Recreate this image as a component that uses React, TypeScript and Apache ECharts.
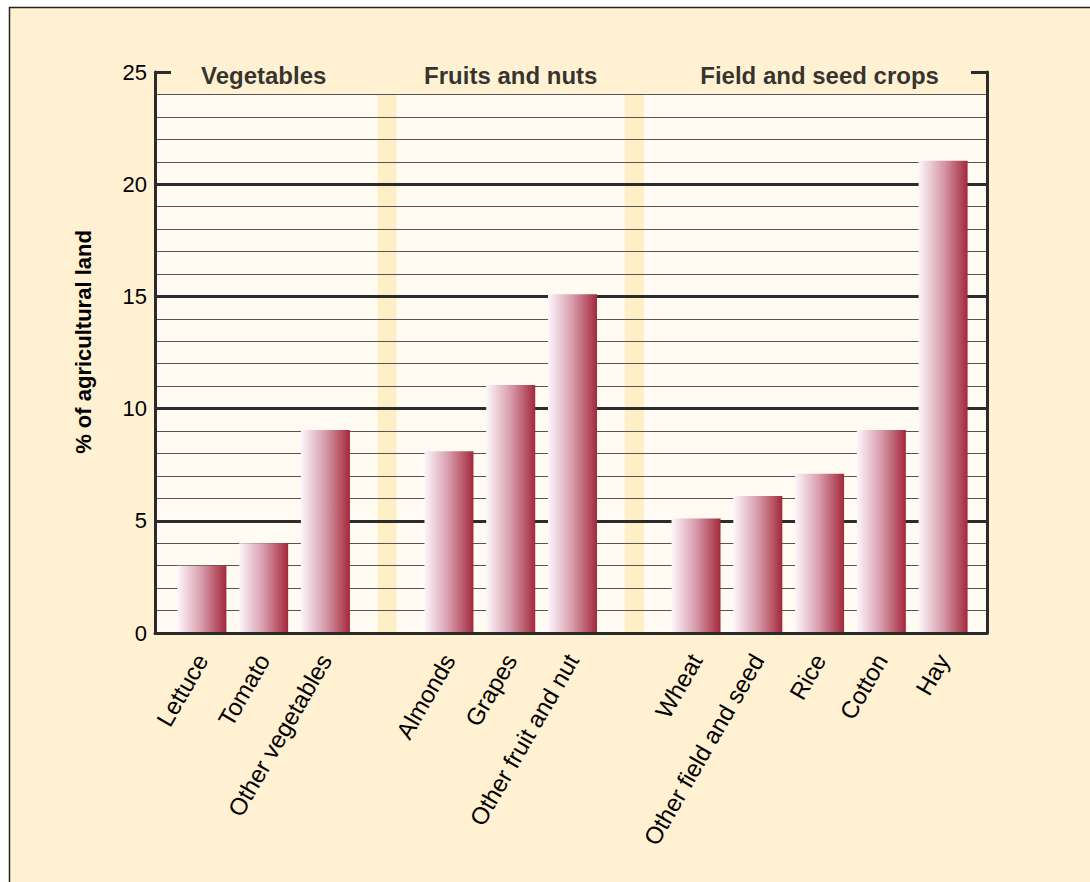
import React, { useEffect, useRef } from 'react';
import * as echarts from 'echarts';

// ---- data ----
const vegetables = ['Lettuce', 'Tomato', 'Other vegetables'];
const vegetableValues = [3.0, 4.0, 9.05];
const fruitsNuts = ['Almonds', 'Grapes', 'Other fruit and nut'];
const fruitNutValues = [8.1, 11.05, 15.1];
const fieldCrops = ['Wheat', 'Other field and seed', 'Rice', 'Cotton', 'Hay'];
const fieldCropValues = [5.1, 6.1, 7.1, 9.05, 21.05];
const groupTitles = ['Vegetables', 'Fruits and nuts', 'Field and seed crops'];
const yMin = 0;
const yMax = 25;
const yInterval = 5;
const headerTop = 24; // top of the light plot area (header row above it)
const titleLevel = 24.85;

const FONT = '"Liberation Sans", Arial, Helvetica, sans-serif';
const AXIS = '#2b2b2b';
const TEXT = '#000';

const groups = [
  { names: vegetables, values: vegetableValues, title: groupTitles[0] },
  { names: fruitsNuts, values: fruitNutValues, title: groupTitles[1] },
  { names: fieldCrops, values: fieldCropValues, title: groupTitles[2] },
];

const categories: string[] = [];
const barData: (number | null)[] = [];
const bandData: (number | null)[] = [];
const titleData: any[] = [];
groups.forEach((g, gi) => {
  if (gi > 0) {
    categories.push(' '.repeat(gi));
    barData.push(null);
    bandData.push(headerTop);
  }
  g.names.forEach((n, i) => {
    categories.push(n);
    barData.push(g.values[i]);
    bandData.push(null);
  });
  titleData.push({ name: g.title, value: [g.names[Math.floor(g.names.length / 2)], titleLevel] });
});

export default function App() {
  const ref = useRef<HTMLDivElement>(null);
  useEffect(() => {
    if (!ref.current) return;
    const chart = echarts.init(ref.current, null, { renderer: 'svg' });
    const gradient = new echarts.graphic.LinearGradient(0, 0, 1, 0, [
      { offset: 0, color: '#FDF6FC' },
      { offset: 0.5, color: '#D79BAB' },
      { offset: 1, color: '#A3283B' },
    ]);
    chart.setOption({
      animation: false,
      backgroundColor: '#ffffff',
      textStyle: { fontFamily: FONT },
      graphic: [
        {
          type: 'rect',
          z: -10,
          silent: true,
          shape: { x: 9.5, y: 7.5, width: 1200, height: 1000 },
          style: { fill: '#FFF1D2', stroke: '#222', lineWidth: 1.5 },
        },
        {
          type: 'text',
          x: 83,
          y: 342,
          rotation: Math.PI / 2,
          style: {
            text: '% of agricultural land',
            font: `bold 22px ${FONT}`,
            fill: TEXT,
            align: 'center',
            verticalAlign: 'middle',
          },
        },
      ],
      grid: [
        { left: 155, top: 72, width: 832, height: 561 },
        { left: 171, top: 72, width: 803, height: 561 },
      ],
      xAxis: [
        {
          gridIndex: 0,
          type: 'category',
          data: ['plot'],
          axisLine: { lineStyle: { color: AXIS, width: 3 } },
          axisTick: { show: false },
          axisLabel: { show: false },
          z: 12,
        },
        {
          gridIndex: 1,
          type: 'category',
          data: categories,
          axisLine: { show: false },
          axisTick: { show: false },
          axisLabel: { rotate: 60, fontSize: 24, color: TEXT, margin: 23, interval: 0, fontFamily: FONT },
        },
        { gridIndex: 1, type: 'category', data: categories, show: false },
      ],
      yAxis: [
        {
          gridIndex: 0,
          type: 'value',
          min: yMin,
          max: yMax,
          interval: yInterval,
          axisLine: { show: true, lineStyle: { color: AXIS, width: 3 } },
          axisTick: { show: true, inside: true, length: 16, lineStyle: { color: AXIS, width: 3 } },
          axisLabel: { fontSize: 22, color: TEXT, margin: 8, fontFamily: FONT },
          splitLine: { show: true, showMinLine: false, showMaxLine: false, lineStyle: { color: AXIS, width: 3 } },
          minorTick: { show: false, splitNumber: 5 },
          minorSplitLine: { show: true, lineStyle: { color: '#555', width: 1 } },
          z: 5,
        },
        {
          gridIndex: 0,
          type: 'value',
          position: 'right',
          min: yMin,
          max: yMax,
          interval: yInterval,
          axisLine: { show: true, lineStyle: { color: AXIS, width: 3 } },
          axisTick: { show: true, inside: true, length: 16, lineStyle: { color: AXIS, width: 3 } },
          axisLabel: { show: false },
          splitLine: { show: false },
          z: 5,
        },
        { gridIndex: 1, type: 'value', min: yMin, max: yMax, show: false },
      ],
      series: [
        {
          type: 'bar',
          name: 'plot area',
          xAxisIndex: 0,
          yAxisIndex: 0,
          data: [headerTop],
          barWidth: '100%',
          itemStyle: { color: '#FFFBF2' },
          z: 0,
          silent: true,
        },
        {
          type: 'bar',
          name: 'group separator',
          xAxisIndex: 2,
          yAxisIndex: 2,
          data: bandData,
          barWidth: 19,
          itemStyle: { color: '#FFEFC6' },
          z: 1,
          silent: true,
        },
        {
          type: 'bar',
          name: '% of agricultural land',
          xAxisIndex: 1,
          yAxisIndex: 2,
          data: barData,
          barWidth: 49,
          itemStyle: { color: gradient },
          z: 10,
        },
        {
          type: 'scatter',
          name: 'group titles',
          xAxisIndex: 1,
          yAxisIndex: 2,
          symbolSize: 1,
          itemStyle: { color: 'rgba(0,0,0,0)' },
          data: titleData,
          label: {
            show: true,
            position: 'inside',
            formatter: (p: any) => p.name,
            fontSize: 24,
            fontWeight: 'bold',
            color: TEXT,
            fontFamily: FONT,
          },
          z: 10,
          silent: true,
        },
      ],
    });
    return () => chart.dispose();
  }, []);
  return (
    <div
      ref={ref}
      style={{ position: 'absolute', left: 0, top: 0, width: 1090, height: 882 }}
    />
  );
}
